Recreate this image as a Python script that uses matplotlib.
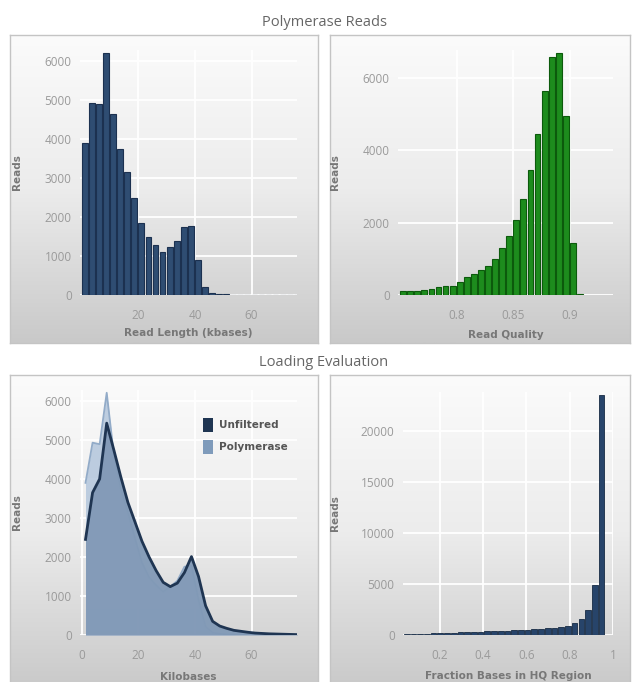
import numpy as np
import matplotlib
matplotlib.use("Agg")
import matplotlib.pyplot as plt
from matplotlib.patches import Rectangle
from matplotlib.colors import LinearSegmentedColormap

plt.rcParams['font.family'] = ['Open Sans', 'DejaVu Sans']

# ---------------- data ----------------
# Polymerase read length histogram (2.5 kb bins)
len_bin_width = 2.5
len_bin_left = np.arange(0, 77.5, len_bin_width)
polymerase_len = [3900, 4930, 4890, 6210, 4640, 3740, 3150, 2480, 1850, 1480,
                  1280, 1110, 1240, 1390, 1750, 1780, 900, 215, 60, 30,
                  15, 8, 5, 3, 2, 1, 1, 0, 0, 0, 0]
# Unfiltered read length curve (same bins, at bin centres)
unfiltered_len = [2450, 3650, 4000, 5430, 4750, 4050, 3400, 2900, 2400, 2000,
                  1650, 1350, 1240, 1330, 1600, 2010, 1500, 750, 350, 230,
                  170, 120, 95, 70, 50, 40, 30, 25, 20, 15, 10]

# Read quality histogram
qual_bin_width = 0.00625
qual_bin_left = 0.75 + qual_bin_width * np.arange(26)
read_quality = [100, 100, 118, 135, 172, 210, 240, 262, 370, 485,
                575, 700, 805, 1005, 1290, 1640, 2070, 2640, 3440, 4440,
                5620, 6570, 6680, 4930, 1440, 40]

# Fraction of bases in HQ region histogram
hq_bin_width = 0.031
hq_bin_center = 0.048 + hq_bin_width * np.arange(30)
hq_fraction = [60, 80, 100, 120, 150, 170, 200, 220, 250, 280,
               300, 330, 360, 390, 420, 440, 470, 500, 530, 570,
               610, 660, 720, 800, 900, 1150, 1550, 2450, 4950, 23500]

W, H = 632, 682
fig = plt.figure(figsize=(W / 100, H / 100), dpi=100)
fig.patch.set_facecolor('white')


def rect(l, t, r, b):
    return [l / W, 1 - b / H, (r - l) / W, (b - t) / H]


grad_cmap = LinearSegmentedColormap.from_list('g', ['#fbfbfb', '#ececec', '#c9c9c9'])


def panel(l, t, r, b):
    bg = fig.add_axes(rect(l, t, r, b), zorder=0)
    grad = np.linspace(0, 1, 256).reshape(-1, 1)
    bg.imshow(grad, aspect='auto', cmap=grad_cmap, extent=[0, 1, 0, 1], origin='upper')
    bg.set_xlim(0, 1)
    bg.set_ylim(0, 1)
    bg.set_xticks([])
    bg.set_yticks([])
    for s in bg.spines.values():
        s.set_color('#c4c4c4')
        s.set_linewidth(1.0)
    return bg


panel(10, 35, 318, 343)
panel(330, 35, 630, 343)
panel(10, 375, 318, 690)
panel(330, 375, 630, 690)

tick_color = '#9a9a9a'
label_color = '#777777'


def style(ax, xticks, xlabels, yticks, xlab, xl_y, yl_x):
    ax.set_facecolor('none')
    for s in ax.spines.values():
        s.set_visible(False)
    ax.set_xticks(xticks)
    ax.set_xticklabels(xlabels)
    ax.set_yticks(yticks)
    ax.tick_params(length=0, colors=tick_color, labelsize=8.5)
    ax.tick_params(axis='x', pad=10)
    ax.tick_params(axis='y', pad=6)
    ax.grid(True, color='white', linewidth=1.3, zorder=0)
    ax.set_axisbelow(True)
    ax.set_xlabel(xlab, fontsize=7.5, fontweight='bold', color=label_color,
                  family='DejaVu Sans')
    ax.set_ylabel('Reads', fontsize=7.5, fontweight='bold', color=label_color,
                  family='DejaVu Sans')
    ax.xaxis.set_label_coords(0.5, xl_y)
    ax.yaxis.set_label_coords(yl_x, 0.5)


# ---- titles ----
fig.text(324 / W, 1 - 23 / H, 'Polymerase Reads', ha='center', va='center',
         fontsize=10.5, color='#666666')
fig.text(324 / W, 1 - 363 / H, 'Loading Evaluation', ha='center', va='center',
         fontsize=10.5, color='#666666')

# ---- top-left: read length ----
ax1 = fig.add_axes(rect(80, 50, 297, 295), zorder=2)
ax1.bar(len_bin_left, polymerase_len, width=len_bin_width * 0.82, align='edge',
        color='#2f4d72', edgecolor='#1c3150', linewidth=0.8, zorder=3)
ax1.set_xlim(-0.7, 76.1)
ax1.set_ylim(0, 6280)
style(ax1, [20, 40, 60], ['20', '40', '60'], [0, 1000, 2000, 3000, 4000, 5000, 6000],
      'Read Length (kbases)', -0.135, -0.267)

# ---- top-right: read quality ----
ax2 = fig.add_axes(rect(398, 50, 613, 295), zorder=2)
ax2.bar(qual_bin_left, read_quality, width=qual_bin_width * 0.82, align='edge',
        color='#1d8c1d', edgecolor='#0c5a0c', linewidth=0.8, zorder=3)
ax2.set_xlim(0.748, 0.938)
ax2.set_ylim(0, 6760)
style(ax2, [0.8, 0.85, 0.9], ['0.8', '0.85', '0.9'], [0, 2000, 4000, 6000],
      'Read Quality', -0.143, -0.27)

# ---- bottom-left: loading evaluation curves ----
ax3 = fig.add_axes(rect(80, 390, 297, 635), zorder=2)
centers = len_bin_left + len_bin_width / 2
ax3.fill_between(centers, polymerase_len, color='#b3c6dc', alpha=0.85, zorder=2, linewidth=0)
ax3.plot(centers, polymerase_len, color='#92abc8', linewidth=1.3, zorder=3)
ax3.fill_between(centers, unfiltered_len, color='#8199b6', alpha=0.95, zorder=4, linewidth=0)
ax3.plot(centers, unfiltered_len, color='#1f3552', linewidth=2.0, zorder=5)
ax3.set_xlim(-0.7, 76.1)
ax3.set_ylim(0, 6280)
style(ax3, [0, 20, 40, 60], ['0', '20', '40', '60'], [0, 1000, 2000, 3000, 4000, 5000, 6000],
      'Kilobases', -0.15, -0.267)
# legend
lx = (203 - 80) / 217
for i, (name, col) in enumerate([('Unfiltered', '#1f3552'), ('Polymerase', '#7f9bbb')]):
    yy = 1 - (425 + 22 * i - 390) / 245
    ax3.add_patch(Rectangle((lx, yy - 0.028), 0.045, 0.056, transform=ax3.transAxes,
                            facecolor=col, edgecolor='none', zorder=6))
    ax3.text(lx + 0.075, yy, name, transform=ax3.transAxes, fontsize=7.5,
             fontweight='bold', color='#555555', va='center', ha='left',
             family='DejaVu Sans', zorder=6)

# ---- bottom-right: fraction bases in HQ region ----
ax4 = fig.add_axes(rect(403, 392, 613, 635), zorder=2)
ax4.bar(hq_bin_center, hq_fraction, width=hq_bin_width * 0.85,
        color='#27446a', edgecolor='#172b44', linewidth=0.6, zorder=3)
ax4.set_xlim(0.031, 0.991)
ax4.set_ylim(0, 23820)
style(ax4, [0.2, 0.4, 0.6, 0.8, 1.0], ['0.2', '0.4', '0.6', '0.8', '1'],
      [0, 5000, 10000, 15000, 20000], 'Fraction Bases in HQ Region', -0.147, -0.30)

fig.savefig('out.png', dpi=100)
